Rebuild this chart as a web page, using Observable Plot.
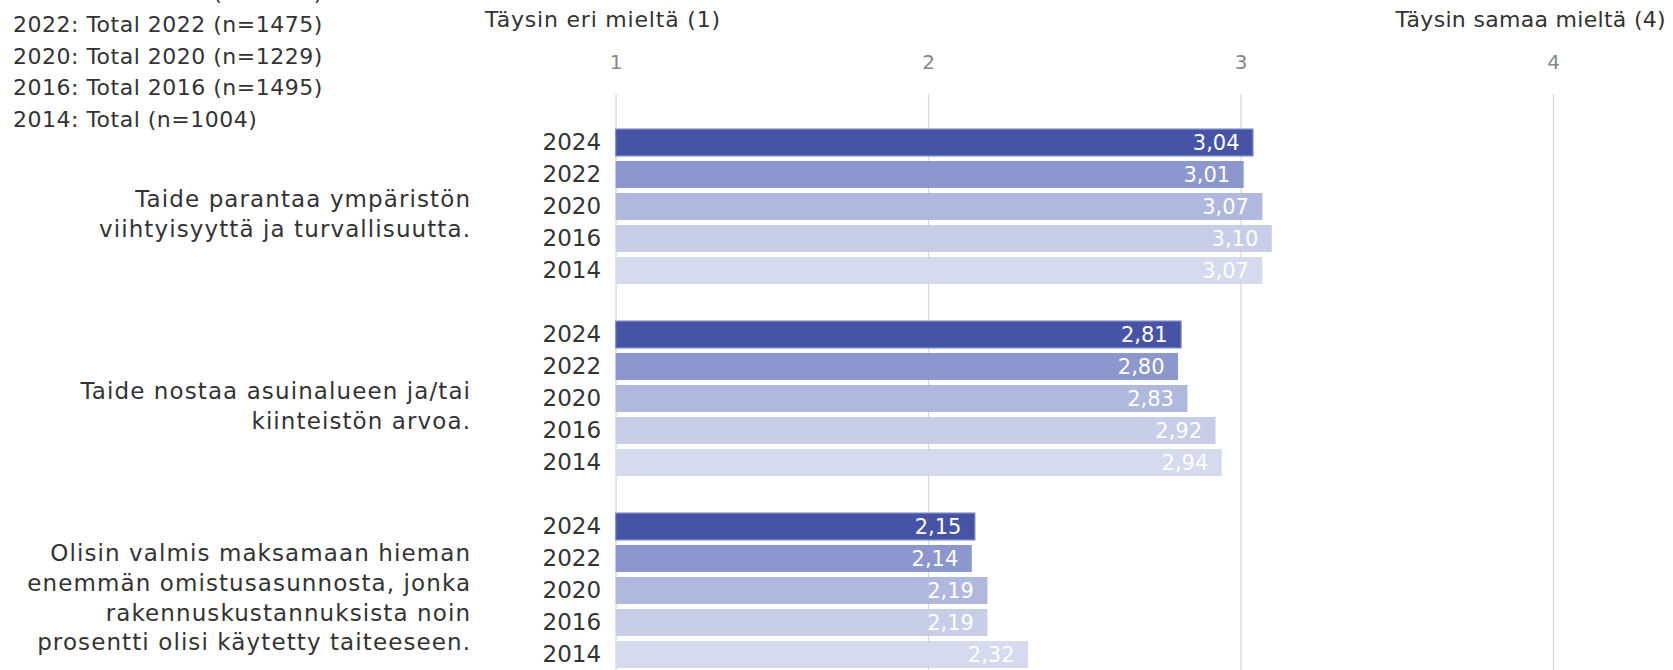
<!DOCTYPE html>
<html>
<head>
<meta charset="utf-8">
<script src="https://cdn.jsdelivr.net/npm/d3@7"></script>
<script src="https://cdn.jsdelivr.net/npm/@observablehq/plot@0.6"></script>
<style>
  html, body { margin: 0; padding: 0; background: #fff; overflow: hidden; }
  #wrap { position: relative; width: 1673px; height: 670px; font-family: "DejaVu Sans", Verdana, sans-serif; }
  .txt { position: absolute; white-space: pre; color: #333; font-size: 22px; line-height: 31.6px; }
  #chart { position: absolute; left: 0; top: 0; }
</style>
</head>
<body>
<div id="wrap">
  <div id="chart"></div>
  <div id="legend" class="txt" style="left:13px; top:-22.6px; letter-spacing:0.5px;"></div>
  <div id="hleft" class="txt" style="left:485px; top:3.6px; letter-spacing:0.8px;"></div>
  <div id="hright" class="txt" style="right:7px; top:3.6px; letter-spacing:0.3px;"></div>
</div>
<script>
// ---- data ----
const legendLabels = [
  "2024: Total 2024 (n=1276)",
  "2022: Total 2022 (n=1475)",
  "2020: Total 2020 (n=1229)",
  "2016: Total 2016 (n=1495)",
  "2014: Total (n=1004)"
];
const scaleLeftLabel = "Täysin eri mieltä (1)";
const scaleRightLabel = "Täysin samaa mieltä (4)";
const xTicks = [1, 2, 3, 4];
const years = ["2024", "2022", "2020", "2016", "2014"];
const statements = [
  "Taide parantaa ympäristön\nviihtyisyyttä ja turvallisuutta.",
  "Taide nostaa asuinalueen ja/tai\nkiinteistön arvoa.",
  "Olisin valmis maksamaan hieman\nenemmän omistusasunnosta, jonka\nrakennuskustannuksista noin\nprosentti olisi käytetty taiteeseen."
];
const values2024 = [3.04, 2.81, 2.15];
const values2022 = [3.01, 2.80, 2.14];
const values2020 = [3.07, 2.83, 2.19];
const values2016 = [3.10, 2.92, 2.19];
const values2014 = [3.07, 2.94, 2.32];

// ---- styles ----
const yearColors = ["#4754a5", "#8b97cd", "#b0b8de", "#c8cde8", "#d5daee"];

// ---- build table ----
const seriesValues = [values2024, values2022, values2020, values2016, values2014];
const slotKeys = [];
const blankKeys = [];
const rows = [];
statements.forEach((s, i) => {
  const bk = i + "|blank";
  slotKeys.push(bk);
  blankKeys.push(bk);
  years.forEach((yr, j) => {
    const key = i + "|" + yr;
    slotKeys.push(key);
    const v = seriesValues[j][i];
    rows.push({key, year: yr, value: v, label: d3.format(".2f")(v).replace(".", ",")});
  });
});
const statementRows = statements.map((s, i) => ({key: i + "|2020", text: s}));

document.getElementById("legend").textContent = legendLabels.join("\n");
document.getElementById("hleft").textContent = scaleLeftLabel;
document.getElementById("hright").textContent = scaleRightLabel;

const step = 32.14;
const top0 = 93.7;
const pI = 0.15;

const plot = Plot.plot({
  width: 1673,
  height: 670,
  marginLeft: 615.6,
  marginRight: 120,
  marginTop: 94,
  marginBottom: 0,
  style: {fontFamily: "DejaVu Sans, Verdana, sans-serif", background: "transparent", overflow: "visible"},
  x: {domain: [1, 4], label: null},
  y: {domain: slotKeys, range: [top0, top0 + step * slotKeys.length], paddingInner: pI, paddingOuter: pI / 2, axis: null},
  color: {domain: years, range: yearColors},
  marks: [
    Plot.ruleX(xTicks, {stroke: "#d9d9d9", strokeWidth: 1.3}),
    Plot.axisX(xTicks, {anchor: "top", label: null, tickSize: 0, tickPadding: 26, fontSize: 20, fill: "#888", tickFormat: d => String(d)}),
    Plot.ruleX(blankKeys, {x: 1, y: d => d, stroke: "#a3aad6", strokeWidth: 1.5}),
    Plot.barX(rows, {x1: 1, x2: "value", y: "key", fill: "year"}),
    Plot.barX(rows.filter(d => d.year === "2024"), {x1: 1, x2: "value", y: "key", fill: "none", stroke: "#8a94cc", strokeWidth: 1.2}),
    Plot.text(rows, {x: "value", y: "key", text: "label", textAnchor: "end", dx: -14, fill: "white", fontSize: 21}),
    Plot.text(rows, {x: 1, y: "key", text: "year", textAnchor: "end", dx: -15, fill: "#333", fontSize: 23}),
    Plot.text(statementRows, {x: 1, y: "key", text: "text", textAnchor: "end", dx: -145, dy: 5, lineHeight: 1.3, fill: "#333", fontSize: 23})
  ]
});
// widen letter spacing of the statement labels (last text mark)
const textGroups = plot.querySelectorAll('g[aria-label="text"]');
if (textGroups.length) textGroups[textGroups.length - 1].setAttribute("letter-spacing", "1.1");
document.getElementById("chart").appendChild(plot);
</script>
</body>
</html>
